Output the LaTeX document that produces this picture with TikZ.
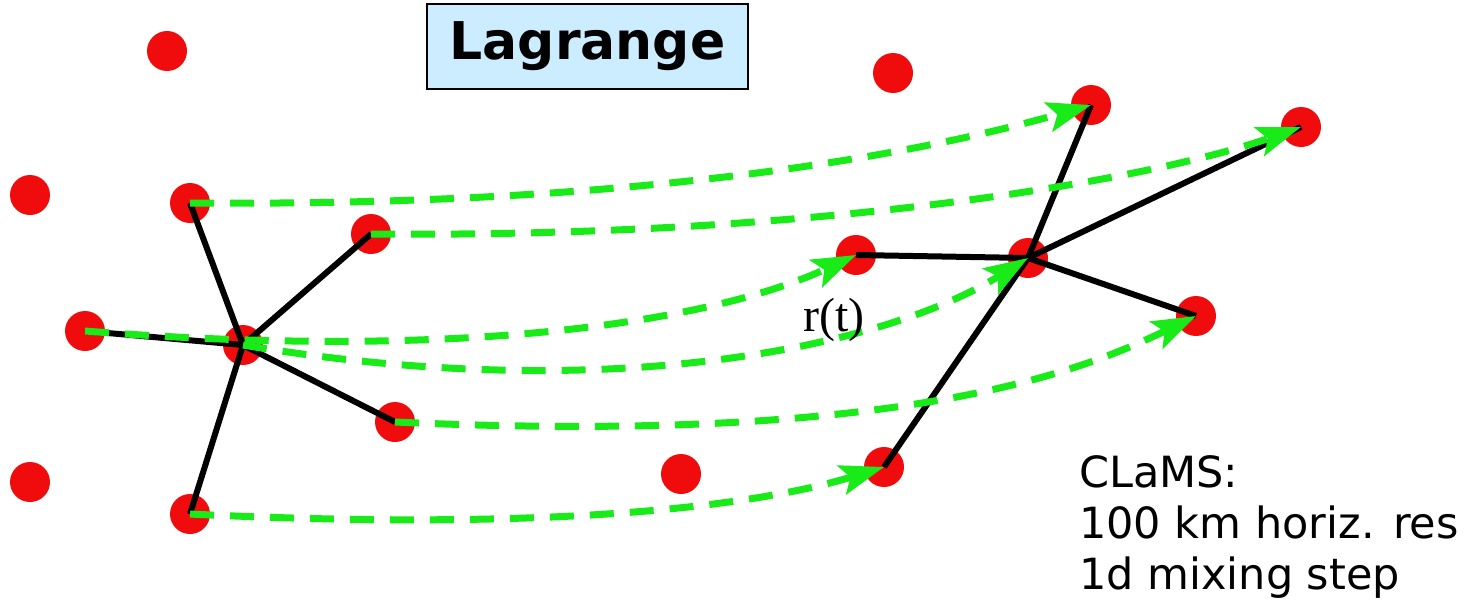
\documentclass[tikz,border=0pt]{standalone}
\usepackage{fontspec}
\setmainfont{DejaVu Sans}
\newfontfamily\serifr{Liberation Serif}
\usetikzlibrary{arrows.meta}
\definecolor{dotred}{RGB}{240,12,12}
\definecolor{arrgreen}{RGB}{25,235,25}
\definecolor{boxblue}{RGB}{204,236,255}
\begin{document}
\begin{tikzpicture}[x=1pt,y=-1pt,
 dot/.style={circle,fill=dotred,minimum size=40pt,inner sep=0pt},
 link/.style={line width=6pt,black},
 move/.style={line width=7pt,arrgreen,dash pattern=on 24pt off 16pt,-{Stealth[length=44pt,width=30pt,inset=9pt]}},
]
\useasboundingbox (0,0) rectangle (1474,605);
% isolated parcels
\node[dot] (i1) at (167,51) {};
\node[dot] (i2) at (893,73) {};
\node[dot] (i3) at (30,195) {};
\node[dot] (i4) at (30,482) {};
\node[dot] (i5) at (681,474) {};
% left cluster
\node[dot] (A1) at (190,203) {};
\node[dot] (A2) at (371,234) {};
\node[dot] (A3) at (85,331) {};
\node[dot] (C) at (243,345) {};
\node[dot] (A4) at (395,422) {};
\node[dot] (A5) at (190,514) {};
% right cluster
\node[dot] (B1) at (1091,105) {};
\node[dot] (B2) at (1301,127) {};
\node[dot] (B3) at (856,255) {};
\node[dot] (D) at (1028,258) {};
\node[dot] (B4) at (1196,316) {};
\node[dot] (B5) at (884,467) {};
% links
\foreach \n in {A1,A2,A3,A4,A5} \draw[link] (C.center) -- (\n.center);
\foreach \n in {B1,B2,B3,B4,B5} \draw[link] (D.center) -- (\n.center);
% trajectories
\draw[move] (A1.center) .. controls (680,207) and (950,145) .. (B1.center);
\draw[move] (A2.center) .. controls (820,238) and (1150,180) .. (B2.center);
\draw[move] (A3.center) .. controls (480,362) and (720,318) .. (B3.center);
\draw[move] (C.center) .. controls (600,405) and (880,350) .. (D.center);
\draw[move] (A4.center) .. controls (900,445) and (1080,372) .. (B4.center);
\draw[move] (A5.center) .. controls (560,532) and (760,505) .. (B5.center);
% labels
\node[draw=black,line width=2pt,fill=boxblue,minimum width=321pt,minimum height=85pt,inner sep=0pt,
 font=\fontsize{52}{60}\selectfont\bfseries] (title) at (587.5,46.5) {Lagrange};
\node[font=\fontsize{48}{54}\selectfont\serifr,inner sep=0pt] (rt) at (834,320) {r(t)};
\node[anchor=north west,inner sep=0pt,align=left,font=\fontsize{43}{51}\selectfont] (info) at (1079,455)
 {CLaMS:\\100 km horiz. res\\1d mixing step};
\end{tikzpicture}
\end{document}
